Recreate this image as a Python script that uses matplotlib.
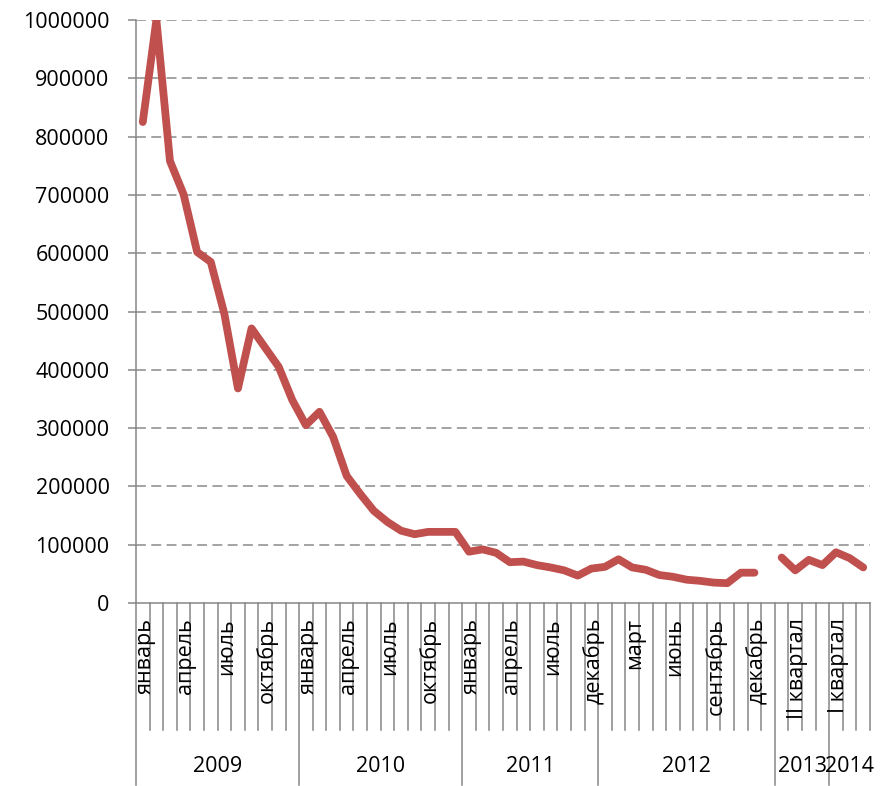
import matplotlib
matplotlib.use("Agg")
import matplotlib.pyplot as plt
import matplotlib.transforms as mtransforms
import numpy as np

plt.rcParams["font.family"] = ["Open Sans", "DejaVu Sans"]

# ── Данные ────────────────────────────────────────────────────────────────────
MONTHS = ["январь", "февраль", "март", "апрель", "май", "июнь",
          "июль", "август", "сентябрь", "октябрь", "ноябрь", "декабрь"]
QUARTERS = ["I квартал", "II квартал", "III квартал", "IV квартал"]

YEARS = ["2009", "2010", "2011", "2012", "2013", "2014"]
PERIODS = [
    MONTHS,
    MONTHS,
    MONTHS[:8] + ["октябрь", "декабрь"],
    MONTHS + [""],
    QUARTERS,
    QUARTERS[:3],
]

VALUES = [
    # 2009
    825000, 1000000, 758000, 701000, 602000, 585000,
    496000, 368000, 471000, 438000, 405000, 348000,
    # 2010
    305000, 328000, 285000, 218000, 187000, 158000,
    139000, 124000, 118000, 122000, 122000, 122000,
    # 2011
    88000, 92000, 86000, 70000, 71000, 65000, 61000, 56000, 47000, 59000,
    # 2012
    62000, 75000, 61000, 57000, 48000, 45000,
    40000, 38000, 35000, 34000, 52000, 52000, np.nan,
    # 2013
    78000, 56000, 74000, 65000,
    # 2014
    87000, 77000, 61000,
]

LINE_COLOR = "#C0504D"
AXIS_COLOR = "#868686"
FS = 15.5

labels = [p for year in PERIODS for p in year]
n = len(labels)
x = np.arange(n) + 0.5

fig = plt.figure(figsize=(8.87, 7.86), dpi=100)
ax = fig.add_axes([136 / 887, 1 - 603 / 786, 734 / 887, 583 / 786])

ax.plot(x, VALUES, color=LINE_COLOR, linewidth=5.6,
        solid_joinstyle="round", solid_capstyle="round", zorder=3)

ax.set_xlim(0, n)
ax.set_ylim(0, 1000000)
ax.set_yticks(np.arange(0, 1000001, 100000))
ax.set_yticklabels([f"{v:d}" for v in range(0, 1000001, 100000)])
ax.tick_params(axis="y", direction="out", length=6, width=1.1,
               color=AXIS_COLOR, labelsize=FS, pad=13)
ax.set_xticks([])

for v in range(100000, 1000001, 100000):
    ax.axhline(v, color="#8a8a8a", linewidth=1.1, dashes=(6.5, 3.5), zorder=1)

for side in ["top", "right"]:
    ax.spines[side].set_visible(False)
for side in ["left", "bottom"]:
    ax.spines[side].set_color(AXIS_COLOR)
    ax.spines[side].set_linewidth(1.1)

# ── Двухуровневая ось категорий ───────────────────────────────────────────────
trans = mtransforms.blended_transform_factory(ax.transData, ax.transAxes)
row1 = -127 / 583
row2 = -182 / 583

bounds = np.cumsum([0] + [len(p) for p in PERIODS])
for i in range(1, n + 1):
    bottom = row2 if (i in bounds and i < n) else row1
    ax.plot([i, i], [0, bottom], color=AXIS_COLOR, linewidth=1.1,
            transform=trans, clip_on=False)
ax.plot([0, 0], [0, row2], color=AXIS_COLOR, linewidth=1.1,
        transform=trans, clip_on=False)

for i, lab in enumerate(labels):
    if i % 3 == 0 and lab:
        ax.text(x[i] + 0.15, -15 / 583, lab, rotation=90, ha="center", va="top",
                fontsize=FS, transform=trans)

for year, a, b in zip(YEARS, bounds[:-1], bounds[1:]):
    ax.text((a + b) / 2, -164 / 583, year, ha="center", va="center",
            fontsize=FS, transform=trans)

fig.savefig("out.png", dpi=100)
